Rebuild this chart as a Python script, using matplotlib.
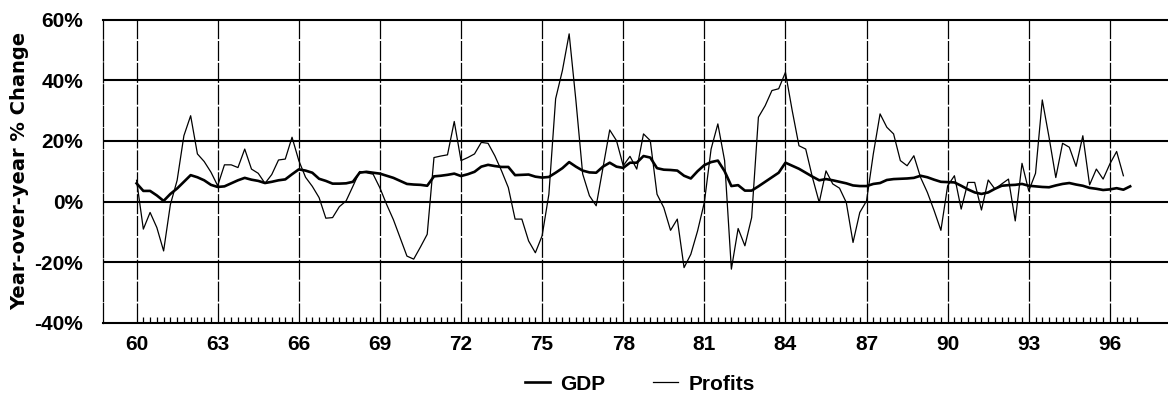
import numpy as np
import matplotlib
matplotlib.use('Agg')
import matplotlib.pyplot as plt
from matplotlib.lines import Line2D

# quarterly year-over-year % change, 1960Q1 onwards
GDP = [6, 3.5, 3.5, 2, 0.2, 2.5, 4.3, 6.5, 8.7, 8,
       7, 5.5, 4.8, 5, 6, 7, 7.8, 7.2, 6.8, 6.1,
       6.5, 7, 7.3, 9, 10.6, 10.2, 9.5, 7.5, 6.8, 5.9,
       5.9, 6, 6.5, 9.5, 9.8, 9.5, 9.2, 8.5, 7.8, 6.8,
       5.8, 5.6, 5.5, 5.2, 8.3, 8.5, 8.8, 9.2, 8.4, 9,
       9.8, 11.5, 12.1, 11.7, 11.4, 11.4, 8.7, 8.8, 8.9, 8.2,
       7.9, 8.1, 9.5, 11, 13, 11.5, 10.2, 9.6, 9.5, 11.5,
       12.8, 11.5, 11.1, 12.8, 12.8, 15, 14.5, 11, 10.5, 10.4,
       10.2, 8.5, 7.6, 10, 12, 13, 13.5, 10, 5.1, 5.4,
       3.6, 3.6, 5, 6.5, 8, 9.5, 12.8, 11.8, 10.8, 9.5,
       8.2, 7, 7.4, 7, 6.5, 6, 5.3, 5.1, 5.1, 5.8,
       6.1, 7.1, 7.4, 7.5, 7.6, 7.8, 8.5, 8, 7.2, 6.5,
       6.4, 6.3, 5.2, 4, 3, 2.5, 3, 4.2, 5.2, 5.4,
       5.5, 5.8, 5.2, 5, 4.8, 4.7, 5.3, 5.8, 6.1, 5.6,
       5.2, 4.5, 4.2, 3.8, 4, 4.4, 3.9, 5]

PROFITS = [7, -9.1, -3.6, -8.6, -16.3, -1, 7, 21.7, 28.3, 15.7,
           13.2, 9.7, 5.2, 12.1, 12.1, 11.2, 17.3, 10.7, 9.3, 6,
           8.9, 13.7, 14, 21.2, 13.5, 8, 5, 1.3, -5.5, -5.3,
           -1.7, 0.2, 5, 9.9, 9.5, 9, 4.5, -1, -6, -12,
           -18, -19, -15, -10.8, 14.5, 15, 15.4, 26.4, 13.5, 14.5,
           15.7, 19.5, 19.2, 15.1, 10.1, 4.6, -5.8, -5.8, -13, -16.9,
           -11.3, 2.4, 33.9, 43.2, 55.3, 33.3, 9.1, 1.9, -1.4, 11.2,
           23.6, 20.1, 11.8, 14.9, 10.7, 22.3, 20.1, 2.4, -2, -9.5,
           -5.8, -21.8, -17.4, -9.7, -0.3, 17.3, 25.6, 13.5, -22.3, -8.9,
           -14.6, -5.3, 27.8, 31.6, 36.6, 37.2, 42.6, 30, 18.4, 17.3,
           7.9, -0.3, 10.1, 5.8, 4.4, -0.3, -13.5, -3.6, 0.2, 15.7,
           28.9, 24.5, 22.3, 13.5, 11.8, 15.1, 7.9, 3, -3, -9.5,
           5.2, 8.5, -2.5, 6.3, 6.3, -2.8, 7.1, 4.1, 5.8, 7.4,
           -6.4, 12.6, 3.5, 9.3, 33.5, 21.2, 7.9, 19.2, 17.9, 11.6,
           21.7, 5.5, 10.7, 7.4, 12.4, 16.5, 8.5]

YEAR_TICKS = [60, 63, 66, 69, 72, 75, 78, 81, 84, 87, 90, 93, 96]
PCT_TICKS = [-40, -20, 0, 20, 40, 60]

plt.rcParams['font.family'] = ['Liberation Sans', 'DejaVu Sans']

fig = plt.figure(figsize=(11.68, 4.0), dpi=100)
ax = fig.add_axes([0.088, 0.193, 0.912, 0.758])

x_gdp = 60 + np.arange(len(GDP)) / 4
x_prof = 60 + np.arange(len(PROFITS)) / 4

ax.plot(x_gdp, GDP, color='black', lw=1.9, label='GDP', zorder=4)
ax.plot(x_prof, PROFITS, color='black', lw=0.9, label='Profits', zorder=3)

ax.set_xlim(58.75, 98.15)
ax.set_ylim(-40, 60)

# grid
for y in PCT_TICKS[1:-1]:
    ax.axhline(y, color='black', lw=1.5, zorder=1)
for x in YEAR_TICKS:
    ax.axvline(x, color='black', lw=0.9, ls=(0, (16, 1.5)), zorder=1)

ax.set_yticks(PCT_TICKS)
ax.set_yticklabels([f'{v}%' for v in PCT_TICKS])
ax.set_xticks(YEAR_TICKS)
ax.set_xticklabels([str(v) for v in YEAR_TICKS])
ax.set_xticks(np.arange(60, 97.01, 0.25), minor=True)
ax.tick_params(axis='both', which='major', length=0, labelsize=15)
ax.tick_params(axis='y', pad=14)
ax.tick_params(axis='x', pad=9)
ax.tick_params(axis='x', which='minor', direction='in', length=4, width=0.9)
for lbl in ax.get_xticklabels() + ax.get_yticklabels():
    lbl.set_fontweight('bold')

ax.spines['right'].set_visible(False)
ax.spines['top'].set_linewidth(1.5)
ax.spines['bottom'].set_linewidth(1.5)
ax.spines['left'].set_linewidth(0.9)
ax.spines['left'].set_linestyle((0, (16, 1.5)))

ax.set_ylabel('Year-over-year % Change', fontsize=14, fontweight='bold',
              family='DejaVu Sans')
ax.yaxis.set_label_coords(-0.069, 0.5)

handles = [Line2D([], [], color='black', lw=1.9), Line2D([], [], color='black', lw=0.9)]
leg = fig.legend(handles, ['GDP', 'Profits'], loc='center', bbox_to_anchor=(0.548, 0.04),
                 ncol=2, frameon=False, handlelength=1.2, handletextpad=0.5,
                 columnspacing=2.3, prop={'size': 15, 'weight': 'bold'})

fig.savefig('out.png', dpi=100)
